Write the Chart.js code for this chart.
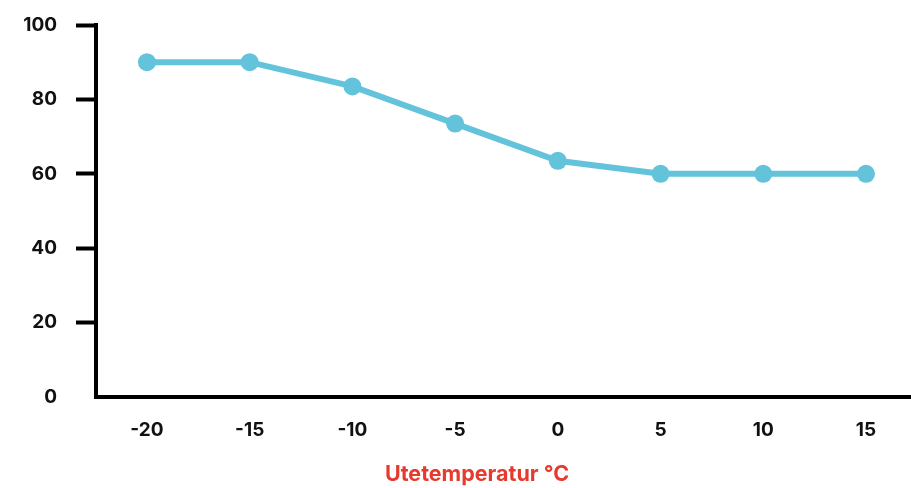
<!DOCTYPE html>
<html>
<head>
<meta charset="utf-8">
<script src="https://cdn.jsdelivr.net/npm/chart.js@4.4.0/dist/chart.umd.min.js"></script>
<style>
  html, body { margin: 0; padding: 0; background: #fff; }
  canvas { display: block; }
</style>
</head>
<body>
<canvas id="c" width="911" height="488"></canvas>
<script>
const temperatures = [-20, -15, -10, -5, 0, 5, 10, 15];
const supplyTemp = [90, 90, 83.5, 73.5, 63.5, 60, 60, 60];
const yTicks = [0, 20, 40, 60, 80, 100];
const xTitle = 'Utetemperatur °C';

const lineColor = '#62c3da';
const titleColor = '#e63a2e';
const fontFamily = 'Inter, "Noto Sans", sans-serif';

const titlePlugin = {
  id: 'bottomTitle',
  afterDraw(chart) {
    const ctx = chart.ctx;
    ctx.save();
    ctx.font = 'bold 21.5px ' + fontFamily;
    ctx.fillStyle = titleColor;
    ctx.textAlign = 'center';
    ctx.textBaseline = 'middle';
    ctx.fillText(xTitle, 477, 475);
    ctx.restore();
  }
};

new Chart(document.getElementById('c'), {
  type: 'line',
  data: {
    datasets: [{
      data: temperatures.map((t, i) => ({ x: t, y: supplyTemp[i] })),
      borderColor: lineColor,
      backgroundColor: lineColor,
      borderWidth: 6,
      pointRadius: 9,
      pointHoverRadius: 9,
      pointBorderWidth: 0,
      pointBackgroundColor: lineColor,
      tension: 0,
      clip: false
    }]
  },
  options: {
    responsive: false,
    animation: false,
    devicePixelRatio: 1,
    layout: { autoPadding: false, padding: { top: 25, right: 0, bottom: 0, left: 0 } },
    plugins: {
      legend: { display: false },
      tooltip: { enabled: false },
      title: { display: false }
    },
    scales: {
      x: {
        type: 'linear',
        min: temperatures[0] - 2.48,
        max: temperatures[temperatures.length - 1] + 2.19,
        afterBuildTicks: (scale) => { scale.ticks = temperatures.map(v => ({ value: v })); },
        afterFit: (scale) => {
          scale.height = 91;
          scale.paddingLeft = 0; scale.paddingRight = 0;
          scale.paddingTop = 0; scale.paddingBottom = 0;
        },
        border: { display: true, color: '#000', width: 4 },
        grid: { display: false, drawTicks: false },
        ticks: {
          color: '#111',
          padding: 22,
          maxRotation: 0,
          autoSkip: false,
          font: { family: fontFamily, size: 19, weight: 'bold' }
        }
      },
      y: {
        min: 0,
        max: 100,
        afterBuildTicks: (scale) => { scale.ticks = yTicks.map(v => ({ value: v })); },
        afterFit: (scale) => {
          scale.width = 96;
          scale.paddingLeft = 0; scale.paddingRight = 0;
          scale.paddingTop = 0; scale.paddingBottom = 0;
        },
        border: { display: true, color: '#000', width: 4 },
        grid: {
          display: true,
          drawOnChartArea: false,
          drawTicks: true,
          tickLength: 20,
          tickWidth: 4,
          tickColor: (ctx) => (ctx.tick && ctx.tick.value === 0) ? 'rgba(0,0,0,0)' : '#000'
        },
        ticks: {
          color: '#111',
          padding: 19,
          font: { family: fontFamily, size: 19, weight: 'bold' }
        }
      }
    }
  },
  plugins: [titlePlugin]
});
</script>
</body>
</html>
